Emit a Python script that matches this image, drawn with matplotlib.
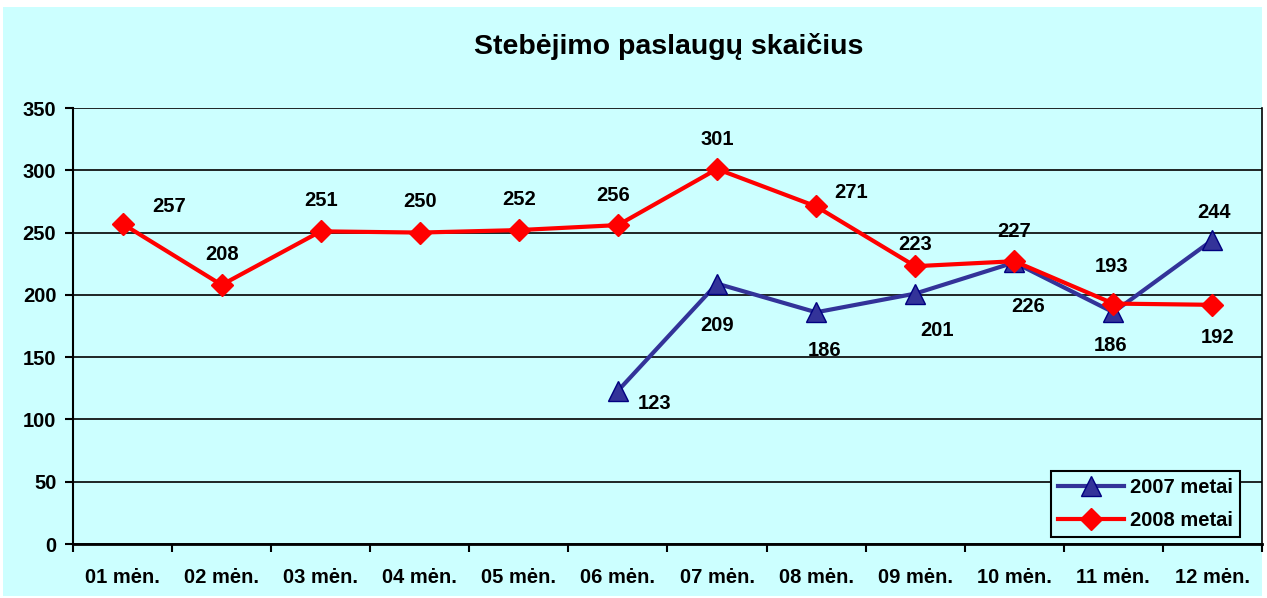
import matplotlib
matplotlib.use("Agg")
import matplotlib.pyplot as plt
from matplotlib.patches import Rectangle
import numpy as np

months = ["01 mėn.", "02 mėn.", "03 mėn.", "04 mėn.", "05 mėn.", "06 mėn.",
          "07 mėn.", "08 mėn.", "09 mėn.", "10 mėn.", "11 mėn.", "12 mėn."]
s2007 = [None, None, None, None, None, 123, 209, 186, 201, 226, 186, 244]
s2008 = [257, 208, 251, 250, 252, 256, 301, 271, 223, 227, 193, 192]
yticks = [0, 50, 100, 150, 200, 250, 300, 350]

# label offsets in pixels (dx, dy)
off2008 = [(47, 17), (0, 30), (0, 31), (0, 31), (0, 31), (-5, 30), (0, 30),
           (35, 14), (0, 22), (0, 30), (-2, 37), (5, -33)]
off2007 = [None]*5 + [(37, -13), (0, -42), (8, -38), (22, -37), (14, -44), (-3, -33), (2, 28)]

plt.rcParams['font.family'] = ['Liberation Sans', 'DejaVu Sans']
FS = 14.5
W, H = 1267, 598
fig = plt.figure(figsize=(W/100, H/100), dpi=100, facecolor='white')
fig.patches.append(Rectangle((3/W, 2/H), 1259/W, (H-9)/H, transform=fig.transFigure,
                             facecolor='#CCFFFF', edgecolor='none', zorder=-10))

left, right, top, bottom = 73, 1262, 108, 544
ax = fig.add_axes([left/W, 1-bottom/H, (right-left)/W, (bottom-top)/H])
ax.set_facecolor('#CCFFFF')

x = np.arange(12)
x07 = [i for i in x if s2007[i] is not None]
y07 = [s2007[i] for i in x07]
ax.plot(x07, y07, color='#333399', lw=3, marker='^', ms=15, mfc='#333399',
        mec='#000080', label='2007 metai', zorder=3)
ax.plot(x, s2008, color='#FF0000', lw=3, marker='D', ms=11, mfc='#FF0000',
        mec='#FF0000', label='2008 metai', zorder=4)

for i in x:
    dx, dy = off2008[i]
    ax.annotate(str(s2008[i]), (i, s2008[i]), xytext=(dx, dy), textcoords='offset pixels',
                ha='center', va='center', fontsize=FS, fontweight='bold')
    if s2007[i] is not None:
        dx, dy = off2007[i]
        ax.annotate(str(s2007[i]), (i, s2007[i]), xytext=(dx, dy), textcoords='offset pixels',
                    ha='center', va='center', fontsize=FS, fontweight='bold')

ax.set_xlim(-0.5, 11.5)
ax.set_ylim(0, 350)
ax.set_yticks(yticks)
ax.set_yticklabels([str(v) for v in yticks], fontsize=FS, fontweight='bold')
ax.yaxis.grid(True, color='black', lw=1.2)
ax.set_axisbelow(True)
ax.set_xticks(np.arange(-0.5, 12, 1))
ax.set_xticklabels([])
ax.set_xticks(x, minor=True)
ax.set_xticklabels(months, minor=True, fontsize=FS, fontweight='bold')
ax.tick_params(axis='x', which='minor', length=0, pad=17)
ax.tick_params(axis='x', which='major', length=6, width=1.5, direction='out')
ax.tick_params(axis='y', length=6, width=1.5, direction='out', pad=6)
ax.spines['top'].set_visible(False)
ax.spines['left'].set_linewidth(1.5)
ax.spines['bottom'].set_linewidth(2)
ax.spines['right'].set_linewidth(1.2)

fig.text(669/W, 1-46/H, "Stebėjimo paslaugų skaičius", ha='center', va='center',
         fontsize=20.5, fontweight='bold')

leg = ax.legend(loc='lower right', bbox_to_anchor=(1240/W, 1-537/H), bbox_transform=fig.transFigure,
                frameon=True, fancybox=False, edgecolor='black', facecolor='#CCFFFF',
                prop={'size': FS, 'weight': 'bold'}, handlelength=3.3, borderpad=0.35,
                labelspacing=0.7, handletextpad=0.3, framealpha=1, borderaxespad=0)
leg.get_frame().set_linewidth(1.5)

fig.savefig("out.png", dpi=100, facecolor='white')
